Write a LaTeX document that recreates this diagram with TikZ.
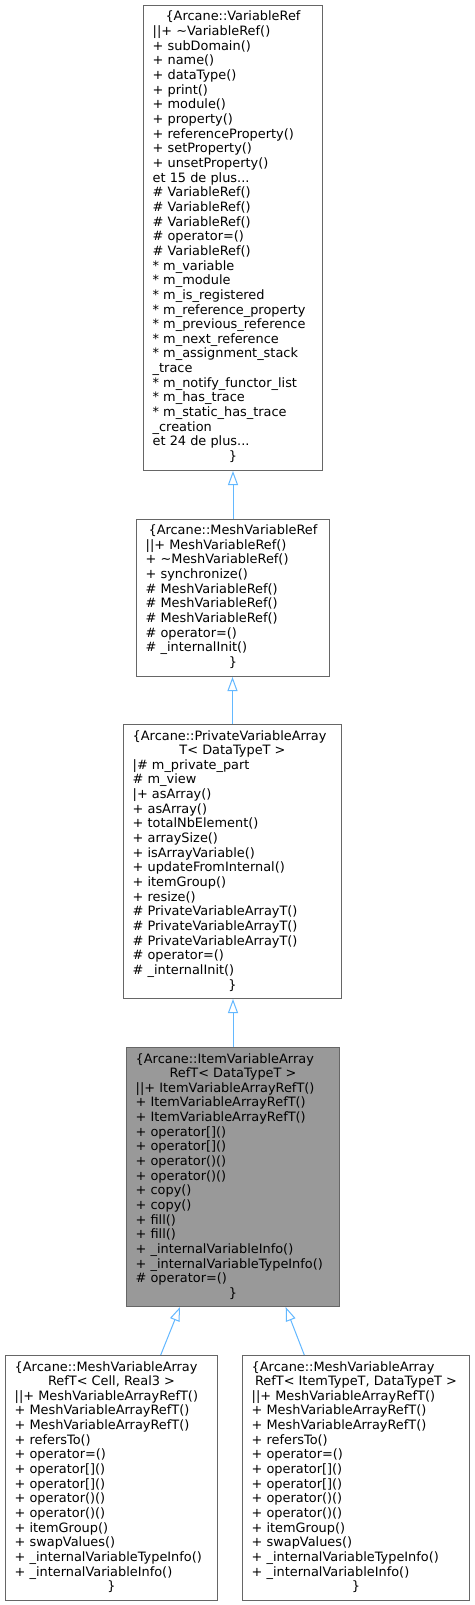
\documentclass[tikz,border=0pt]{standalone}
\usepackage{fontspec}
\setmainfont{DejaVu Sans}
\usetikzlibrary{arrows.meta,calc}
\definecolor{nodeborder}{HTML}{666666}
\definecolor{nodefill}{HTML}{999999}
\definecolor{edgeblue}{HTML}{63B8FF}
\tikzset{
  cls/.style={draw=nodeborder, line width=1pt, fill=white, inner sep=0pt, anchor=north west},
  clshl/.style={cls, fill=nodefill},
  txt/.style={inner sep=0pt, font=\fontsize{12.9}{14.65}\selectfont},
  edge/.style={draw=edgeblue, line width=1pt, -{Triangle[open, length=14pt, width=10pt]}}
}
\newcommand\Lt[3]{\node[txt,anchor=base west] at ([shift={(9.5pt,{-16pt-#2*14.65pt})}]#1.north west) {#3};}
\newcommand\Ct[3]{\node[txt,anchor=base] at ([shift={(0pt,{-16pt-#2*14.65pt})}]#1.north) {#3};}
\begin{document}
\begin{tikzpicture}[x=1pt,y=1pt]
\fill[white] (0,0) rectangle (474,-1605);
\useasboundingbox (0,0) rectangle (474,-1605);

% Box 1
\node[cls, minimum width=179pt, minimum height=465pt] (b1) at (143,-5) {};
\Ct{b1}{0}{\{Arcane::VariableRef}
\Lt{b1}{1}{||+ \textasciitilde VariableRef()}
\Lt{b1}{2}{+ subDomain()}
\Lt{b1}{3}{+ name()}
\Lt{b1}{4}{+ dataType()}
\Lt{b1}{5}{+ print()}
\Lt{b1}{6}{+ module()}
\Lt{b1}{7}{+ property()}
\Lt{b1}{8}{+ referenceProperty()}
\Lt{b1}{9}{+ setProperty()}
\Lt{b1}{10}{+ unsetProperty()}
\Lt{b1}{11}{et 15 de plus...}
\Lt{b1}{12}{\# VariableRef()}
\Lt{b1}{13}{\# VariableRef()}
\Lt{b1}{14}{\# VariableRef()}
\Lt{b1}{15}{\# operator=()}
\Lt{b1}{16}{\# VariableRef()}
\Lt{b1}{17}{* m\_variable}
\Lt{b1}{18}{* m\_module}
\Lt{b1}{19}{* m\_is\_registered}
\Lt{b1}{20}{* m\_reference\_property}
\Lt{b1}{21}{* m\_previous\_reference}
\Lt{b1}{22}{* m\_next\_reference}
\Lt{b1}{23}{* m\_assignment\_stack}
\Lt{b1}{24}{\_trace}
\Lt{b1}{25}{* m\_notify\_functor\_list}
\Lt{b1}{26}{* m\_has\_trace}
\Lt{b1}{27}{* m\_static\_has\_trace}
\Lt{b1}{28}{\_creation}
\Lt{b1}{29}{et 24 de plus...}
\Ct{b1}{30}{\}}

% Box 2
\node[cls, minimum width=193pt, minimum height=157.5pt] (b2) at (136,-518.5) {};
\Ct{b2}{0}{\{Arcane::MeshVariableRef}
\Lt{b2}{1}{||+ MeshVariableRef()}
\Lt{b2}{2}{+ \textasciitilde MeshVariableRef()}
\Lt{b2}{3}{+ synchronize()}
\Lt{b2}{4}{\# MeshVariableRef()}
\Lt{b2}{5}{\# MeshVariableRef()}
\Lt{b2}{6}{\# MeshVariableRef()}
\Lt{b2}{7}{\# operator=()}
\Lt{b2}{8}{\# \_internalInit()}
\Ct{b2}{9}{\}}

% Box 3
\node[cls, minimum width=218pt, minimum height=274pt] (b3) at (123,-724) {};
\Lt{b3}{0}{\{Arcane::PrivateVariableArray}
\Ct{b3}{1}{T< DataTypeT >}
\Lt{b3}{2}{|\# m\_private\_part}
\Lt{b3}{3}{\# m\_view}
\Lt{b3}{4}{|+ asArray()}
\Lt{b3}{5}{+ asArray()}
\Lt{b3}{6}{+ totalNbElement()}
\Lt{b3}{7}{+ arraySize()}
\Lt{b3}{8}{+ isArrayVariable()}
\Lt{b3}{9}{+ updateFromInternal()}
\Lt{b3}{10}{+ itemGroup()}
\Lt{b3}{11}{+ resize()}
\Lt{b3}{12}{\# PrivateVariableArrayT()}
\Lt{b3}{13}{\# PrivateVariableArrayT()}
\Lt{b3}{14}{\# PrivateVariableArrayT()}
\Lt{b3}{15}{\# operator=()}
\Lt{b3}{16}{\# \_internalInit()}
\Ct{b3}{17}{\}}

% Box 4 (highlighted)
\node[clshl, minimum width=213pt, minimum height=259pt] (b4) at (126,-1047) {};
\Lt{b4}{0}{\{Arcane::ItemVariableArray}
\Ct{b4}{1}{RefT< DataTypeT >}
\Lt{b4}{2}{||+ ItemVariableArrayRefT()}
\Lt{b4}{3}{+ ItemVariableArrayRefT()}
\Lt{b4}{4}{+ ItemVariableArrayRefT()}
\Lt{b4}{5}{+ operator[]()}
\Lt{b4}{6}{+ operator[]()}
\Lt{b4}{7}{+ operator()()}
\Lt{b4}{8}{+ operator()()}
\Lt{b4}{9}{+ copy()}
\Lt{b4}{10}{+ copy()}
\Lt{b4}{11}{+ fill()}
\Lt{b4}{12}{+ fill()}
\Lt{b4}{13}{+ \_internalVariableInfo()}
\Lt{b4}{14}{+ \_internalVariableTypeInfo()}
\Lt{b4}{15}{\# operator=()}
\Ct{b4}{16}{\}}

% Box 5
\node[cls, minimum width=212pt, minimum height=245pt] (b5) at (5,-1355) {};
\Lt{b5}{0}{\{Arcane::MeshVariableArray}
\Ct{b5}{1}{RefT< Cell, Real3 >}
\Lt{b5}{2}{||+ MeshVariableArrayRefT()}
\Lt{b5}{3}{+ MeshVariableArrayRefT()}
\Lt{b5}{4}{+ MeshVariableArrayRefT()}
\Lt{b5}{5}{+ refersTo()}
\Lt{b5}{6}{+ operator=()}
\Lt{b5}{7}{+ operator[]()}
\Lt{b5}{8}{+ operator[]()}
\Lt{b5}{9}{+ operator()()}
\Lt{b5}{10}{+ operator()()}
\Lt{b5}{11}{+ itemGroup()}
\Lt{b5}{12}{+ swapValues()}
\Lt{b5}{13}{+ \_internalVariableTypeInfo()}
\Lt{b5}{14}{+ \_internalVariableInfo()}
\Ct{b5}{15}{\}}

% Box 6
\node[cls, minimum width=227pt, minimum height=245pt] (b6) at (242,-1355) {};
\Lt{b6}{0}{\{Arcane::MeshVariableArray}
\Ct{b6}{1}{RefT< ItemTypeT, DataTypeT >}
\Lt{b6}{2}{||+ MeshVariableArrayRefT()}
\Lt{b6}{3}{+ MeshVariableArrayRefT()}
\Lt{b6}{4}{+ MeshVariableArrayRefT()}
\Lt{b6}{5}{+ refersTo()}
\Lt{b6}{6}{+ operator=()}
\Lt{b6}{7}{+ operator[]()}
\Lt{b6}{8}{+ operator[]()}
\Lt{b6}{9}{+ operator()()}
\Lt{b6}{10}{+ operator()()}
\Lt{b6}{11}{+ itemGroup()}
\Lt{b6}{12}{+ swapValues()}
\Lt{b6}{13}{+ \_internalVariableTypeInfo()}
\Lt{b6}{14}{+ \_internalVariableInfo()}
\Ct{b6}{15}{\}}

% Edges
\draw[edge] (b2.north) -- (b1.south);
\draw[edge] (b3.north) -- (b3.north |- b2.south);
\draw[edge] (b4.north) -- (b4.north |- b3.south);
\coordinate (e5s) at ([xshift=155.7pt]b5.north west);
\coordinate (e5t) at ([xshift=54pt]b4.south west);
\coordinate (e6s) at ([xshift=62.3pt]b6.north west);
\coordinate (e6t) at ([xshift=159.7pt]b4.south west);
\draw[edge] (e5s) -- (e5t);
\draw[edge] (e6s) -- (e6t);
\end{tikzpicture}
\end{document}
